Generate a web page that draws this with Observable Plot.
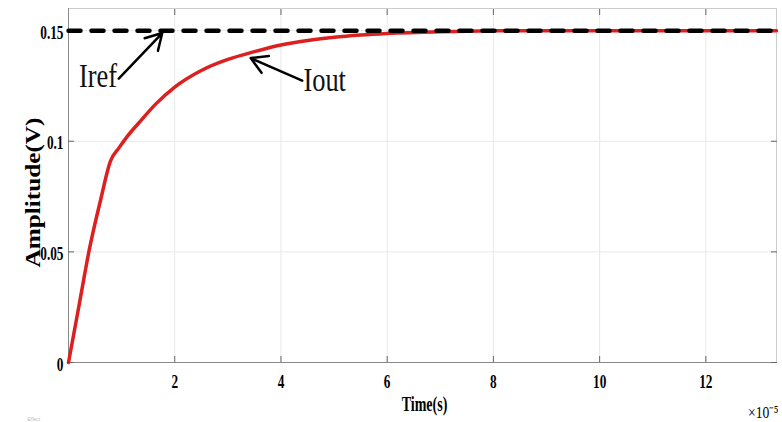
<!DOCTYPE html>
<html>
<head>
<meta charset="utf-8">
<script src="https://cdn.jsdelivr.net/npm/d3@7"></script>
<script src="https://cdn.jsdelivr.net/npm/@observablehq/plot@0.6"></script>
<style>
  html, body { margin: 0; padding: 0; background: #fff; }
</style>
</head>
<body>
<div id="chart"></div>
<script>
// Time axis in units of 1e-5 s
const ioutTime   = [0, 0.2, 0.4, 0.6, 0.79, 0.95, 1.1, 1.35, 1.65, 2.0, 2.5, 3.0, 3.5, 4.0, 4.5, 5.0, 5.5, 6.0, 7.0, 8.0, 9.0, 10, 11, 12, 13.33];
const ioutValues = [0, 0.026, 0.052, 0.073, 0.091, 0.097, 0.102, 0.109, 0.117, 0.1245, 0.132, 0.137, 0.1405, 0.1435, 0.1455, 0.147, 0.148, 0.1487, 0.1495, 0.1499, 0.15, 0.15, 0.15, 0.15, 0.15];
const irefTime   = [0, 13.33];
const irefValues = [0.15, 0.15];

const xTicks = [2, 4, 6, 8, 10, 12];
const xTickLabels = ["2", "4", "6", "8", "10", "12"];
const yTicks = [0, 0.05, 0.1, 0.15];
const yTickLabels = ["0", "0.05", "0.1", "0.15"];
const xDomain = [0, 13.33];
const yDomain = [0, 0.16];

const xTitle = "Time(s)";
const yTitle = "Amplitude(V)";
const xExponent = "×10⁻⁵";

const annotationLabels = ["Iref", "Iout"];
const annotationX = [0.556, 4.823];
const annotationY = [0.1294, 0.1275];
const arrowX1 = [0.946, 4.40];
const arrowY1 = [0.1283, 0.1274];
const arrowX2 = [1.765, 3.43];
const arrowY2 = [0.1489, 0.1376];

const iout = ioutTime.map((t, i) => ({t, v: ioutValues[i]}));
const iref = irefTime.map((t, i) => ({t, v: irefValues[i]}));
const notes = annotationLabels.map((label, i) => ({label, x: annotationX[i], y: annotationY[i]}));
const arrows = arrowX1.map((x1, i) => ({x1, y1: arrowY1[i], x2: arrowX2[i], y2: arrowY2[i]}));

const serif = "'Liberation Serif', 'Times New Roman', serif";

const chart = Plot.plot({
  width: 782,
  height: 422,
  marginLeft: 68,
  marginRight: 6,
  marginTop: 8,
  marginBottom: 60,
  x: {domain: xDomain, label: null},
  y: {domain: yDomain, label: null},
  style: {fontFamily: serif, background: "#fff", color: "#000"},
  marks: [
    Plot.gridX(xTicks, {stroke: "#e8e8e8", strokeOpacity: 1}),
    Plot.gridY(yTicks.filter(d => d > 0), {stroke: "#e8e8e8", strokeOpacity: 1}),
    Plot.frame({stroke: "#cccccc"}),
    Plot.ruleX([0], {stroke: "#8a8a8a"}),
    Plot.ruleY([0], {stroke: "#8a8a8a"}),
    // inward tick marks
    Plot.axisX({anchor: "bottom", ticks: xTicks, tickSize: 6, dy: -6, tickFormat: () => "", label: null, stroke: "#666"}),
    Plot.axisX({anchor: "top", ticks: xTicks, tickSize: 6, dy: 6, tickFormat: () => "", label: null, stroke: "#666"}),
    Plot.axisY({anchor: "left", ticks: yTicks, tickSize: 6, dx: 6, tickFormat: () => "", label: null, stroke: "#666"}),
    Plot.axisY({anchor: "right", ticks: yTicks, tickSize: 6, dx: -6, tickFormat: () => "", label: null, stroke: "#666"}),
    // labels
    Plot.axisX({anchor: "bottom", ticks: xTicks, tickSize: 0, tickPadding: 12, label: null,
      tickFormat: d => xTickLabels[xTicks.indexOf(d)], fontSize: 19, fontWeight: "bold", fontFamily: serif}),
    Plot.axisY({anchor: "left", ticks: yTicks, tickSize: 0, tickPadding: 5, dy: 2, label: null,
      tickFormat: d => yTickLabels[yTicks.indexOf(d)], fontSize: 19, fontWeight: "bold", fontFamily: serif}),
    // series
    Plot.line(iout, {x: "t", y: "v", stroke: "#dc1f1f", strokeWidth: 3.5, curve: "monotone-x"}),
    Plot.line(iref, {x: "t", y: "v", stroke: "#000", strokeWidth: 4.5, strokeDasharray: "12,11"}),
    // annotations
    Plot.arrow(arrows, {x1: "x1", y1: "y1", x2: "x2", y2: "y2", stroke: "#000", strokeWidth: 2.5, headLength: 11}),
    Plot.text(notes, {x: "x", y: "y", text: "label", fontSize: 33, fontFamily: serif, fill: "#111"}),
    // titles
    Plot.text([xTitle], {text: d => d, frameAnchor: "bottom", textAnchor: "middle", lineAnchor: "middle", dx: 2, dy: 42, fontSize: 20, fontWeight: "bold", fontFamily: serif}),
    Plot.text([yTitle], {text: d => d, frameAnchor: "left", textAnchor: "middle", lineAnchor: "middle", rotate: -90, dx: -35, dy: 7, fontSize: 21, fontWeight: "bold", fontFamily: serif}),
    Plot.text([xExponent], {text: d => d, frameAnchor: "bottom-right", textAnchor: "end", lineAnchor: "middle", dx: 2, dy: 50, fontSize: 17, fontFamily: serif}),
    Plot.text(["Effect"], {text: d => d, frameAnchor: "bottom-left", textAnchor: "start", lineAnchor: "middle", dx: -41, dy: 57, fontSize: 5, fill: "#bbb", fontFamily: "Liberation Sans"})
  ]
});

// Compression/stretch to mimic the tall, narrow serif glyphs of the reference
function squeeze(el, s) {
  const t = el.getAttribute("transform");
  if (t) {
    el.setAttribute("transform", t + ` scale(${s},1)`);
  } else {
    const x = +el.getAttribute("x") || 0, y = +el.getAttribute("y") || 0;
    el.removeAttribute("x"); el.removeAttribute("y");
    el.setAttribute("transform", `translate(${x},${y}) scale(${s},1)`);
  }
}
chart.querySelectorAll("text").forEach(el => {
  const s = el.textContent;
  if (s === "Effect" || s === "") return;
  if (s === yTitle) squeeze(el, 1.2);
  else if (annotationLabels.includes(s)) squeeze(el, 0.8);
  else if (s === xExponent) squeeze(el, 0.8);
  else squeeze(el, 0.7);
});

document.getElementById("chart").appendChild(chart);
</script>
</body>
</html>
